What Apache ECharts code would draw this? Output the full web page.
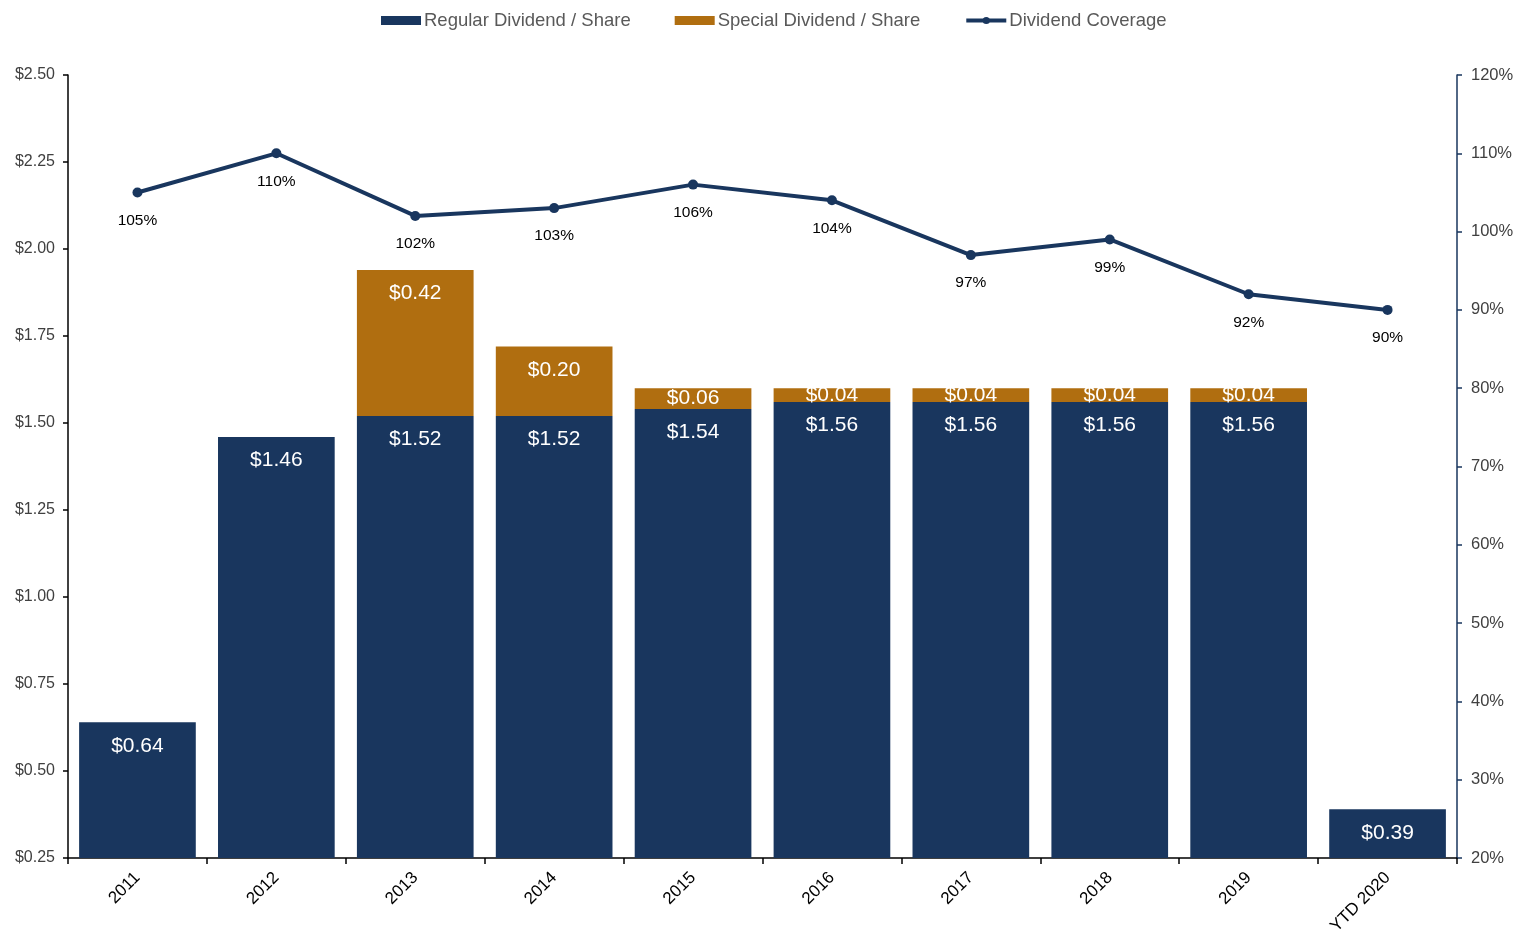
<!DOCTYPE html>
<html>
<head>
<meta charset="utf-8">
<script src="https://cdn.jsdelivr.net/npm/echarts@6/dist/echarts.min.js"></script>
<style>
  html, body { margin: 0; padding: 0; background: #fff; }
  #chart { width: 1518px; height: 932px; }
</style>
</head>
<body>
<div id="chart"></div>
<script>
// Dividend history by year
const categories = ['2011', '2012', '2013', '2014', '2015', '2016', '2017', '2018', '2019', 'YTD 2020'];
const regularDividend = [0.64, 1.46, 1.52, 1.52, 1.54, 1.56, 1.56, 1.56, 1.56, 0.39];
const specialDividend = [null, null, 0.42, 0.20, 0.06, 0.04, 0.04, 0.04, 0.04, null];
const dividendCoverage = [105, 110, 102, 103, 106, 104, 97, 99, 92, 90];
const leftTicks = { min: 0.25, max: 2.5, interval: 0.25 };
const rightTicks = { min: 20, max: 120, interval: 10 };

const NAVY = '#19365e';
const GOLD = '#b06e10';
const FONT = '"Liberation Sans", Arial, sans-serif';

const money = v => '$' + Number(v).toFixed(2);

// thin segments get their label centred instead of hung from the top
const specialData = specialDividend.map(v => {
  if (v == null) return v;
  return v < 0.1 ? { value: v, label: { position: 'inside', distance: 0 } } : v;
});

const barLabel = {
  show: true,
  position: 'insideTop',
  distance: 13,
  color: '#ffffff',
  fontSize: 21,
  fontFamily: FONT,
  formatter: p => money(p.value)
};

const chart = echarts.init(document.getElementById('chart'), null, { renderer: 'canvas' });

chart.setOption({
  animation: false,
  textStyle: { fontFamily: FONT },
  legend: {
    top: 6,
    left: 376,
    itemWidth: 40,
    itemHeight: 9,
    itemGap: 44,
    textStyle: { fontSize: 18.5, color: '#595959', fontFamily: FONT, padding: [0, 0, 0, -2] },
    data: [
      { name: 'Regular Dividend / Share', icon: 'rect' },
      { name: 'Special Dividend / Share', icon: 'rect' },
      { name: 'Dividend Coverage', lineStyle: { width: 4 } }
    ]
  },
  grid: { left: 68, right: 61, top: 75, bottom: 74, containLabel: false, outerBoundsMode: 'none' },
  xAxis: {
    type: 'category',
    data: categories,
    boundaryGap: true,
    axisLine: { show: true, lineStyle: { color: '#000', width: 1.5 } },
    axisTick: { show: true, alignWithLabel: false, length: 6, lineStyle: { color: '#000', width: 1.5 } },
    axisLabel: { rotate: 45, fontSize: 17, color: '#000', fontFamily: FONT, margin: 17 }
  },
  yAxis: [
    {
      type: 'value',
      min: leftTicks.min,
      max: leftTicks.max,
      interval: leftTicks.interval,
      position: 'left',
      splitLine: { show: false },
      axisLine: { show: true, lineStyle: { color: '#000', width: 1.5 } },
      axisTick: { show: true, length: 5, lineStyle: { color: '#000', width: 1.5 } },
      axisLabel: { fontSize: 16, color: '#404040', fontFamily: FONT, margin: 13, formatter: v => money(v) }
    },
    {
      type: 'value',
      min: rightTicks.min,
      max: rightTicks.max,
      interval: rightTicks.interval,
      position: 'right',
      splitLine: { show: false },
      axisLine: { show: true, lineStyle: { color: NAVY, width: 1.5 } },
      axisTick: { show: true, length: 5, lineStyle: { color: NAVY, width: 1.5 } },
      axisLabel: { fontSize: 16.5, color: '#404040', fontFamily: FONT, margin: 14, formatter: v => v + '%' }
    }
  ],
  series: [
    {
      name: 'Regular Dividend / Share',
      type: 'bar',
      stack: 'dividend',
      yAxisIndex: 0,
      barCategoryGap: '16%',
      clip: true,
      itemStyle: { color: NAVY },
      label: barLabel,
      data: regularDividend
    },
    {
      name: 'Special Dividend / Share',
      type: 'bar',
      stack: 'dividend',
      yAxisIndex: 0,
      barCategoryGap: '16%',
      clip: true,
      itemStyle: { color: GOLD },
      label: barLabel,
      data: specialData
    },
    {
      name: 'Dividend Coverage',
      type: 'line',
      yAxisIndex: 1,
      symbol: 'circle',
      symbolSize: 10,
      z: 5,
      lineStyle: { color: NAVY, width: 4 },
      itemStyle: { color: NAVY },
      label: {
        show: true,
        position: 'bottom',
        distance: 15,
        fontSize: 15.5,
        color: '#000',
        fontFamily: FONT,
        formatter: p => p.value + '%'
      },
      data: dividendCoverage
    }
  ]
});
</script>
</body>
</html>
